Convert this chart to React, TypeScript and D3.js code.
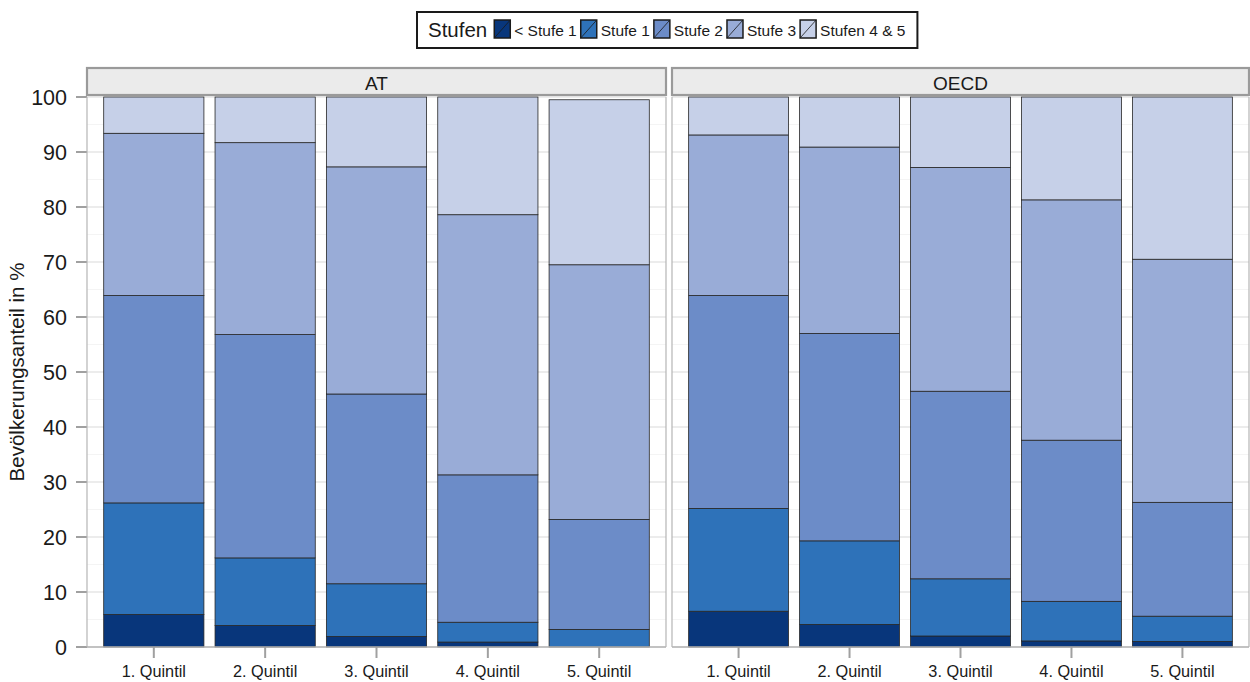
import React from "react";
import * as d3 from "d3";

const quintiles = ["1. Quintil", "2. Quintil", "3. Quintil", "4. Quintil", "5. Quintil"];
const levels = ["< Stufe 1", "Stufe 1", "Stufe 2", "Stufe 3", "Stufen 4 & 5"];
const regions = ["AT", "OECD"];
const levelColors = ["#08367b", "#2e72b9", "#6c8cc8", "#99acd7", "#c6d0e8"];

// AT shares per level, by quintile
const atBelow1 = [5.9, 3.9, 1.9, 0.9, 0];
const atLevel1 = [20.3, 12.3, 9.6, 3.6, 3.2];
const atLevel2 = [37.7, 40.6, 34.5, 26.8, 20.0];
const atLevel3 = [29.5, 34.9, 41.3, 47.3, 46.3];
const atLevel45 = [6.6, 8.3, 12.7, 21.4, 30.0];

// OECD shares per level, by quintile
const oecdBelow1 = [6.5, 4.1, 2.0, 1.1, 1.0];
const oecdLevel1 = [18.7, 15.2, 10.4, 7.2, 4.6];
const oecdLevel2 = [38.7, 37.7, 34.1, 29.3, 20.7];
const oecdLevel3 = [29.2, 33.9, 40.7, 43.7, 44.2];
const oecdLevel45 = [6.9, 9.1, 12.8, 18.7, 29.5];

const yTicks = [0, 10, 20, 30, 40, 50, 60, 70, 80, 90, 100];

const seriesByRegion: Record<string, number[][]> = {
  AT: [atBelow1, atLevel1, atLevel2, atLevel3, atLevel45],
  OECD: [oecdBelow1, oecdLevel1, oecdLevel2, oecdLevel3, oecdLevel45],
};

const FONT = "'Liberation Sans', Arial, Helvetica, sans-serif";

function measure(text: string, size: number): number {
  if (typeof document === "undefined") return text.length * size * 0.55;
  const c = document.createElement("canvas");
  const ctx = c.getContext("2d");
  if (!ctx) return text.length * size * 0.55;
  ctx.font = `${size}px ${FONT}`;
  return ctx.measureText(text).width;
}

export default function App() {
  const W = 1250;
  const H = 682;
  const panelTop = 97;
  const panelBottom = 647;
  const panels = [
    { left: 87, right: 666 },
    { left: 672, right: 1249 },
  ];
  const stripTop = 68;

  const y = d3.scaleLinear().domain([0, 100]).range([panelBottom, panelTop]);
  const minorTicks = d3.range(5, 100, 10);

  // legend layout
  const legTitleSize = 20.5;
  const legLabelSize = 15.5;
  const legLeft = 417;
  const legTop = 12;
  const legHeight = 36;
  const keyW = 16;
  const keyH = 18;
  let cx = 428;
  const titleW = measure("Stufen", legTitleSize);
  cx += titleW + 7;
  const legendItems = levels.map((lv, i) => {
    const kx = cx;
    const tx = kx + keyW + 4;
    const tw = measure(lv, legLabelSize);
    cx = tx + tw + 4;
    return { lv, i, kx, tx };
  });
  const legRight = cx + 8;

  return (
    <svg
      width={W}
      height={H}
      style={{ position: "absolute", left: 0, top: 0, background: "#fff" }}
      fontFamily={FONT}
    >
      {/* legend */}
      <rect
        x={legLeft}
        y={legTop}
        width={legRight - legLeft}
        height={legHeight}
        fill="#fff"
        stroke="#1a1a1a"
        strokeWidth={2}
      />
      <text x={428} y={legTop + 25} fontSize={legTitleSize} fill="#1a1a1a">
        Stufen
      </text>
      {legendItems.map((it) => (
        <g key={it.lv}>
          <rect
            x={it.kx}
            y={legTop + 8}
            width={keyW}
            height={keyH}
            fill={levelColors[it.i]}
            stroke="#1a1a1a"
            strokeWidth={1.5}
          />
          <line
            x1={it.kx}
            y1={legTop + 8 + keyH}
            x2={it.kx + keyW}
            y2={legTop + 8}
            stroke="#1a1a1a"
            strokeWidth={0.8}
          />
          <text x={it.tx} y={legTop + 23.5} fontSize={legLabelSize} fill="#1a1a1a">
            {it.lv}
          </text>
        </g>
      ))}

      {/* y axis title */}
      <text
        transform={`translate(24, ${(panelTop + panelBottom) / 2}) rotate(-90)`}
        textAnchor="middle"
        fontSize={20.5}
        fill="#1a1a1a"
      >
        Bevölkerungsanteil in %
      </text>

      {/* y axis ticks and labels */}
      {yTicks.map((t) => (
        <g key={t}>
          <line x1={76} x2={87} y1={y(t)} y2={y(t)} stroke="#a0a0a0" strokeWidth={2} />
          <text
            x={67}
            y={y(t)}
            dy="0.36em"
            textAnchor="end"
            fontSize={21.5}
            fill="#1a1a1a"
          >
            {t}
          </text>
        </g>
      ))}

      {regions.map((reg, pi) => {
        const p = panels[pi];
        const x = d3
          .scaleLinear()
          .domain([0.4, quintiles.length + 0.6])
          .range([p.left, p.right]);
        const bw = (x(1) - x(0)) * 0.9;
        const data = quintiles.map((q, qi) => {
          const row: Record<string, number | string> = { q };
          levels.forEach((lv, li) => {
            row[lv] = seriesByRegion[reg][li][qi];
          });
          return row;
        });
        const stack = d3.stack<Record<string, number | string>>().keys(levels)(data as any);
        return (
          <g key={reg}>
            <rect
              x={p.left}
              y={panelTop}
              width={p.right - p.left}
              height={panelBottom - panelTop}
              fill="#fff"
            />
            {minorTicks.map((t) => (
              <line
                key={"m" + t}
                x1={p.left}
                x2={p.right}
                y1={y(t)}
                y2={y(t)}
                stroke="#f4f4f4"
                strokeWidth={1.2}
              />
            ))}
            {yTicks.map((t) => (
              <line
                key={"g" + t}
                x1={p.left}
                x2={p.right}
                y1={y(t)}
                y2={y(t)}
                stroke="#e6e6e6"
                strokeWidth={1.5}
              />
            ))}
            {stack.map((s, li) =>
              s.map((d, qi) => {
                const h = y(d[0]) - y(d[1]);
                if (h <= 0) return null;
                return (
                  <rect
                    key={`${li}-${qi}`}
                    x={x(qi + 1) - bw / 2}
                    y={y(d[1])}
                    width={bw}
                    height={h}
                    fill={levelColors[li]}
                    stroke="#262626"
                    strokeWidth={0.8}
                  />
                );
              })
            )}
            {/* panel border */}
            <line x1={p.left} x2={p.left} y1={panelTop} y2={panelBottom} stroke="#b5b5b5" strokeWidth={1.2} />
            <line x1={p.right} x2={p.right} y1={panelTop} y2={panelBottom} stroke="#b5b5b5" strokeWidth={1.2} />
            <line x1={p.left} x2={p.right} y1={panelBottom} y2={panelBottom} stroke="#b5b5b5" strokeWidth={1.5} />
            {/* strip */}
            <rect
              x={p.left}
              y={stripTop}
              width={p.right - p.left}
              height={panelTop - stripTop - 2}
              fill="#ebebeb"
              stroke="#9a9a9a"
              strokeWidth={2.2}
            />
            <text
              x={(p.left + p.right) / 2}
              y={89.5}
              textAnchor="middle"
              fontSize={19}
              fill="#1a1a1a"
            >
              {reg}
            </text>
            {/* x ticks */}
            {quintiles.map((q, qi) => (
              <g key={q}>
                <line
                  x1={x(qi + 1)}
                  x2={x(qi + 1)}
                  y1={panelBottom}
                  y2={panelBottom + 11}
                  stroke="#a0a0a0"
                  strokeWidth={2}
                />
                <text
                  x={x(qi + 1)}
                  y={677}
                  textAnchor="middle"
                  fontSize={16.3}
                  fill="#1a1a1a"
                >
                  {q}
                </text>
              </g>
            ))}
          </g>
        );
      })}
    </svg>
  );
}
